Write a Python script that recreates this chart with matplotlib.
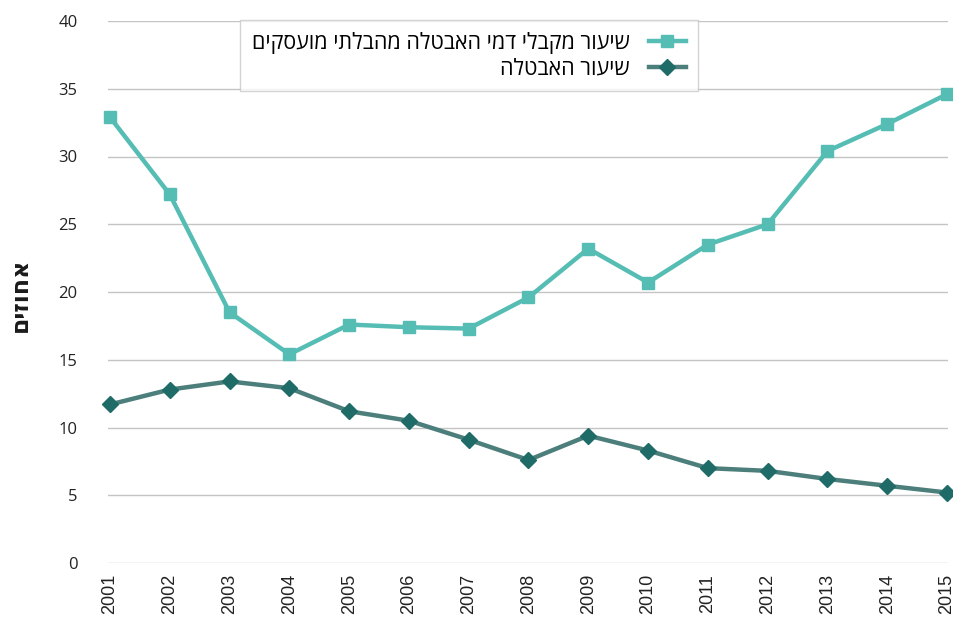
import matplotlib.pyplot as plt
import numpy as np

plt.rcParams['font.family'] = ['Open Sans', 'DejaVu Sans']

years = list(range(2001, 2016))
benefit_rate = [32.9, 27.2, 18.5, 15.4, 17.6, 17.4, 17.3, 19.6, 23.2, 20.7, 23.5, 25.0, 30.4, 32.4, 34.6]
unemployment = [11.7, 12.8, 13.4, 12.9, 11.2, 10.5, 9.1, 7.6, 9.4, 8.3, 7.0, 6.8, 6.2, 5.7, 5.2]
label_benefit = "שיעור מקבלי דמי האבטלה מהבלתי מועסקים"
label_unemp = "שיעור האבטלה"
ylabel = "אחוזים"


def rtl(s):
    # matplotlib has no bidi support, flip hebrew by hand
    return s[::-1]


fig = plt.figure(figsize=(9.54, 6.28), dpi=100)
ax = fig.add_axes([108/954, 1-563/628, 840/954, 542/628])

ax.plot(years, benefit_rate, color='#55bdb3', lw=3.2, marker='s', ms=8.5,
        mec='#55bdb3', mfc='#55bdb3', label=rtl(label_benefit), clip_on=False, zorder=3)
ax.plot(years, unemployment, color='#4c7f7b', lw=3.2, marker='D', ms=8,
        mec='#1e6b68', mfc='#1e6b68', label=rtl(label_unemp), clip_on=False, zorder=3)

ax.set_xlim(2001 - 2/60, 2015 + 1/60)
ax.set_ylim(0, 40)
ax.set_yticks(np.arange(0, 41, 5))
ax.set_xticks(years)
ax.set_xticklabels([str(y) for y in years], rotation=90, fontsize=13,
                   color='#222222', family=['Liberation Sans', 'DejaVu Sans'])
ax.tick_params(axis='y', labelsize=12, labelcolor='#222222', length=0, pad=22)
ax.tick_params(axis='x', length=0, pad=8)
ax.grid(axis='y', color='#c4c4c4', lw=1)
ax.set_axisbelow(True)
for sp in ax.spines.values():
    sp.set_visible(False)

fig.text(0.022, 0.53, rtl(ylabel), rotation=90, fontsize=17, fontweight='bold',
         va='center', ha='center', color='#1a1a1a')

leg = ax.legend(loc='upper left', bbox_to_anchor=(240/954, 1-20/628),
                bbox_transform=fig.transFigure, markerfirst=False, fontsize=15.5,
                frameon=True, fancybox=False, handlelength=1.7, handletextpad=0.9,
                borderpad=0.55, labelspacing=0.2, borderaxespad=0)
leg.get_frame().set_edgecolor('#c8c8c8')
leg.get_frame().set_linewidth(1)
for t in leg.get_texts():
    t.set_ha('right')

fig.savefig('out.png', dpi=100)
